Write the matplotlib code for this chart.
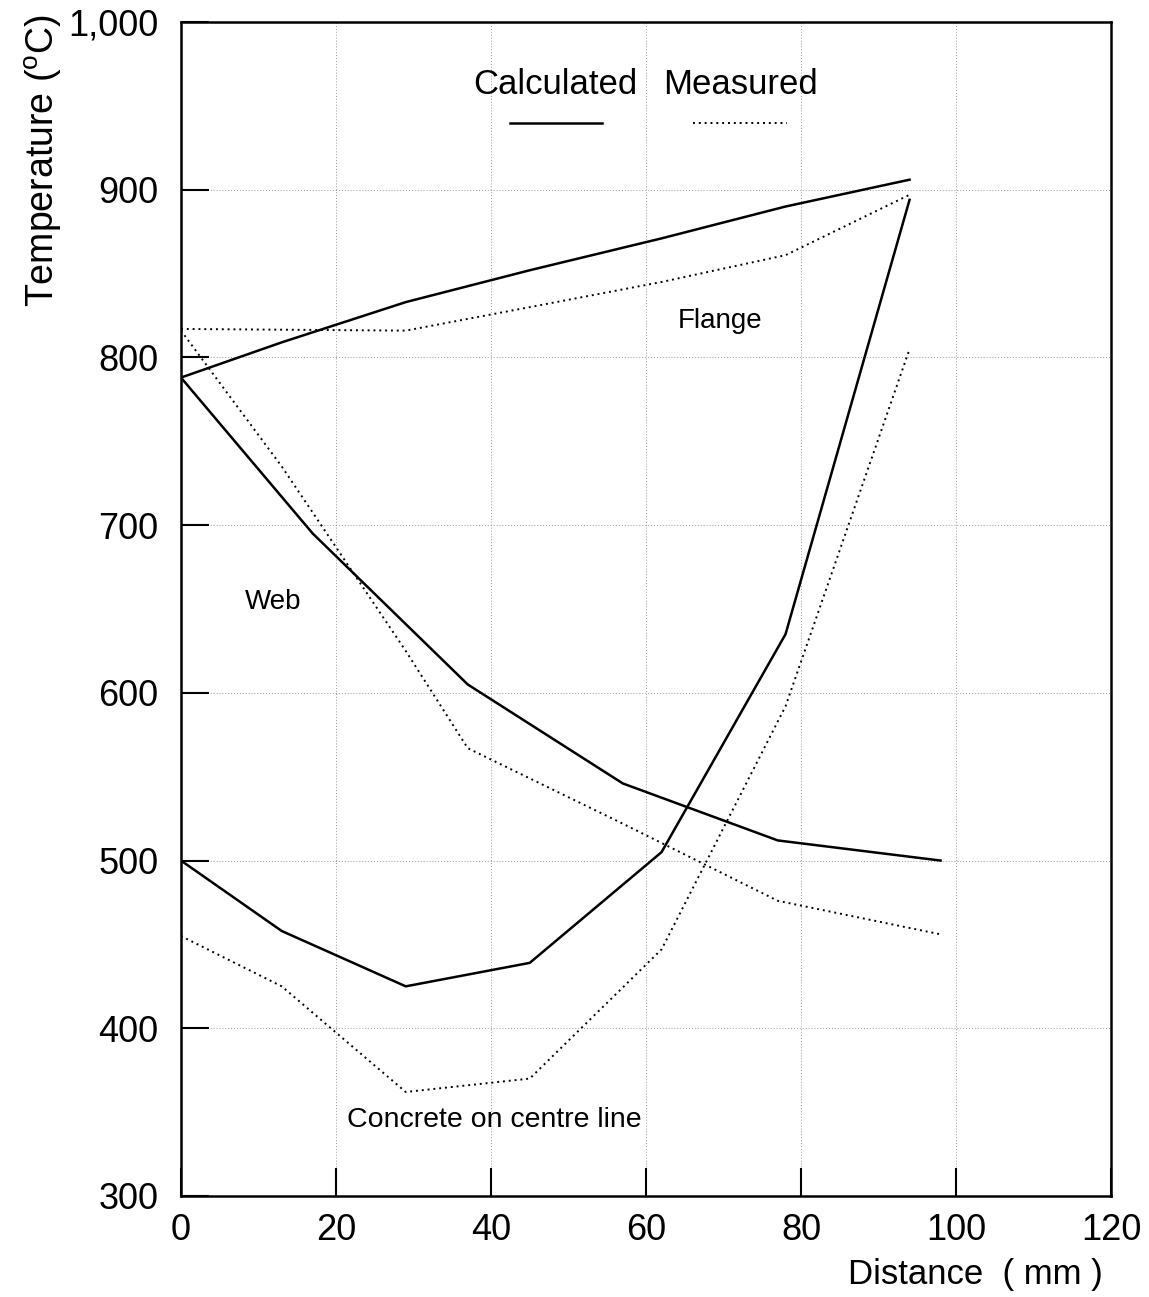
import matplotlib
matplotlib.use("Agg")
import matplotlib.pyplot as plt

# distances (mm) and temperatures (deg C)
flange_calc_d = [0, 13, 29, 45, 62, 78, 94]
flange_calc_t = [788, 809, 833, 852, 871, 890, 906]
flange_meas_d = [0, 29, 45, 62, 78, 94]
flange_meas_t = [817, 816, 830, 845, 861, 897]

web_calc_d = [0, 17, 37, 57, 77, 98]
web_calc_t = [788, 695, 605, 546, 512, 500]
web_meas_d = [0, 13, 29, 37, 57, 77, 98]
web_meas_t = [816, 735, 625, 567, 522, 476, 456]

conc_calc_d = [0, 13, 29, 45, 62, 78, 94]
conc_calc_t = [500, 458, 425, 439, 505, 635, 894]
conc_meas_d = [0, 13, 29, 45, 62, 78, 94]
conc_meas_t = [455, 425, 362, 370, 447, 592, 805]

xticks = [0, 20, 40, 60, 80, 100, 120]
yticks = [300, 400, 500, 600, 700, 800, 900, 1000]
ytick_labels = ["300", "400", "500", "600", "700", "800", "900", "1,000"]

plt.rcParams["font.family"] = ["Liberation Sans", "DejaVu Sans"]
plt.rcParams["mathtext.fontset"] = "custom"
plt.rcParams["mathtext.rm"] = "Liberation Sans"

fig = plt.figure(figsize=(11.49, 12.97), dpi=100)
ax = fig.add_axes([0.1575, 0.0779, 0.8095, 0.9051])

solid = dict(color="black", lw=1.8, ls="-")
dots = dict(color="black", lw=1.4, ls=(0, (1, 2)))

ax.plot(flange_calc_d, flange_calc_t, **solid)
ax.plot(flange_meas_d, flange_meas_t, **dots)
ax.plot(web_calc_d, web_calc_t, **solid)
ax.plot(web_meas_d, web_meas_t, **dots)
ax.plot(conc_calc_d, conc_calc_t, **solid)
ax.plot(conc_meas_d, conc_meas_t, **dots)

ax.set_xlim(0, 120)
ax.set_ylim(300, 1000)
ax.set_xticks(xticks)
ax.set_yticks(yticks)
ax.set_yticklabels(ytick_labels)
ax.tick_params(axis="both", direction="in", length=20, width=1.5, labelsize=26)
ax.tick_params(axis="x", pad=12)
ax.tick_params(axis="y", pad=16)
ax.grid(True, color="#999999", ls=(0, (1, 2)), lw=0.7)
for s in ax.spines.values():
    s.set_linewidth(1.8)

# legend made by hand
ax.text(0.4027, 0.947, "Calculated", transform=ax.transAxes, fontsize=25,
        ha="center", va="center")
ax.text(0.602, 0.947, "Measured", transform=ax.transAxes, fontsize=25,
        ha="center", va="center")
ax.plot([0.354, 0.453], [0.914, 0.914], transform=ax.transAxes, **solid)
ax.plot([0.5505, 0.652], [0.914, 0.914], transform=ax.transAxes, **dots)

# curve labels
ax.text(69.5, 822, "Flange", fontsize=20, ha="center", va="center")
ax.text(11.9, 654, "Web", fontsize=20, ha="center", va="center")
ax.text(40.4, 345, "Concrete on centre line", fontsize=20.5, ha="center", va="center")

ax.text(0.991, -0.067, "Distance  ( mm )", transform=ax.transAxes, fontsize=25,
        ha="right", va="center")
ax.text(-0.148, 0.882, r"Temperature ($^{\mathrm{o}}$C)", transform=ax.transAxes,
        fontsize=27, ha="center", va="center", rotation=90)

fig.savefig("out.png", dpi=100)
